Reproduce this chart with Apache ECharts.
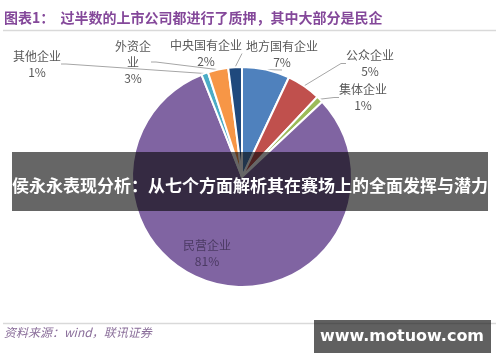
<!DOCTYPE html>
<html><head><meta charset="utf-8">
<script src="https://cdn.jsdelivr.net/npm/echarts@6/dist/echarts.min.js"></script>
<style>html,body{margin:0;padding:0;background:#fff}#c{width:500px;height:362px}</style>
</head><body><div id="c"></div>
<script>
var categories = ['地方国有企业','公众企业','集体企业','民营企业','其他企业','外资企业','中央国有企业'];
var labelNames = ['地方国有企业','公众企业','集体企业','民营企业','其他企业','外资企\n业','中央国有企业'];
var values = [7, 5, 1, 81, 1, 3, 2];
var colors = ['#4f81bd','#c0504d','#9bbb59','#8064a2','#4bacc6','#f79646','#1f497d'];
var titleText = '图表1：  过半数的上市公司都进行了质押，其中大部分是民企';
var overlayText = '侯永永表现分析：从七个方面解析其在赛场上的全面发挥与潜力';
var sourceText = '资料来源：wind，联讯证券';
var watermarkText = 'www.motuow.com';

var labelPos = [[282,54],[370,63.5],[363,97.5],[207,253.5],[37,64],[133,62],[206,53.5]];
var FONT = '"Noto Sans CJK SC","Noto Sans",sans-serif';

var chart = echarts.init(document.getElementById('c'), null, {renderer:'canvas'});
chart.setOption({
  animation:false,
  color: colors,
  series:[{
    type:'pie',
    center:[242,177],
    radius:[0,110],
    startAngle:90,
    clockwise:true,
    avoidLabelOverlap:false,
    percentPrecision:0,
    itemStyle:{borderColor:'#fff', borderWidth:2},
    label:{
      show:true,
      fontSize:12,
      lineHeight:16,
      color:'#595959',
      fontFamily:FONT,
      align:'center',
      formatter:function(p){ return labelNames[p.dataIndex] + '\n' + p.value + '%'; }
    },
    labelLine:{show:true, length:5, length2:5, lineStyle:{color:'#a6a6a6', width:1}},
    labelLayout:function(p){
      var q = labelPos[p.dataIndex];
      return {x:q[0], y:q[1], align:'center', verticalAlign:'middle'};
    },
    data: categories.map(function(n,i){
      var d = {name:n, value:values[i]};
      if (i === 3) { d.labelLine = {show:false}; d.label = {color:'#4b3a63'}; }
      return d;
    })
  }],
  graphic:[
    {type:'text', left:4, top:11, z:10, style:{text:titleText, fill:'#84489a', font:'bold 14px '+FONT}},
    {type:'line', z:10, shape:{x1:3,y1:30.5,x2:496,y2:30.5}, style:{stroke:'#d9d9d9', lineWidth:1.5}},
    {type:'line', z:10, shape:{x1:3,y1:323.5,x2:496,y2:323.5}, style:{stroke:'#d9d9d9', lineWidth:1.5}},
    {type:'text', left:4, top:326, z:10, style:{text:sourceText, fill:'#8a6e9a', font:'italic 12px '+FONT}},
    {type:'rect', z:100, shape:{x:12,y:152,width:476,height:59}, style:{fill:'rgba(5,5,5,0.61)'}},
    {type:'text', z:101, x:250, y:186, style:{text:overlayText, fill:'#fff', font:'bold 17px '+FONT, textAlign:'center', textVerticalAlign:'middle'}},
    {type:'rect', z:100, shape:{x:314,y:320,width:177,height:33}, style:{fill:'rgba(20,20,20,0.68)'}},
    {type:'text', z:101, x:402, y:337, style:{text:watermarkText, fill:'#fff', font:'bold 16px "DejaVu Sans","Liberation Sans",sans-serif', textAlign:'center', textVerticalAlign:'middle'}}
  ]
});
</script></body></html>
